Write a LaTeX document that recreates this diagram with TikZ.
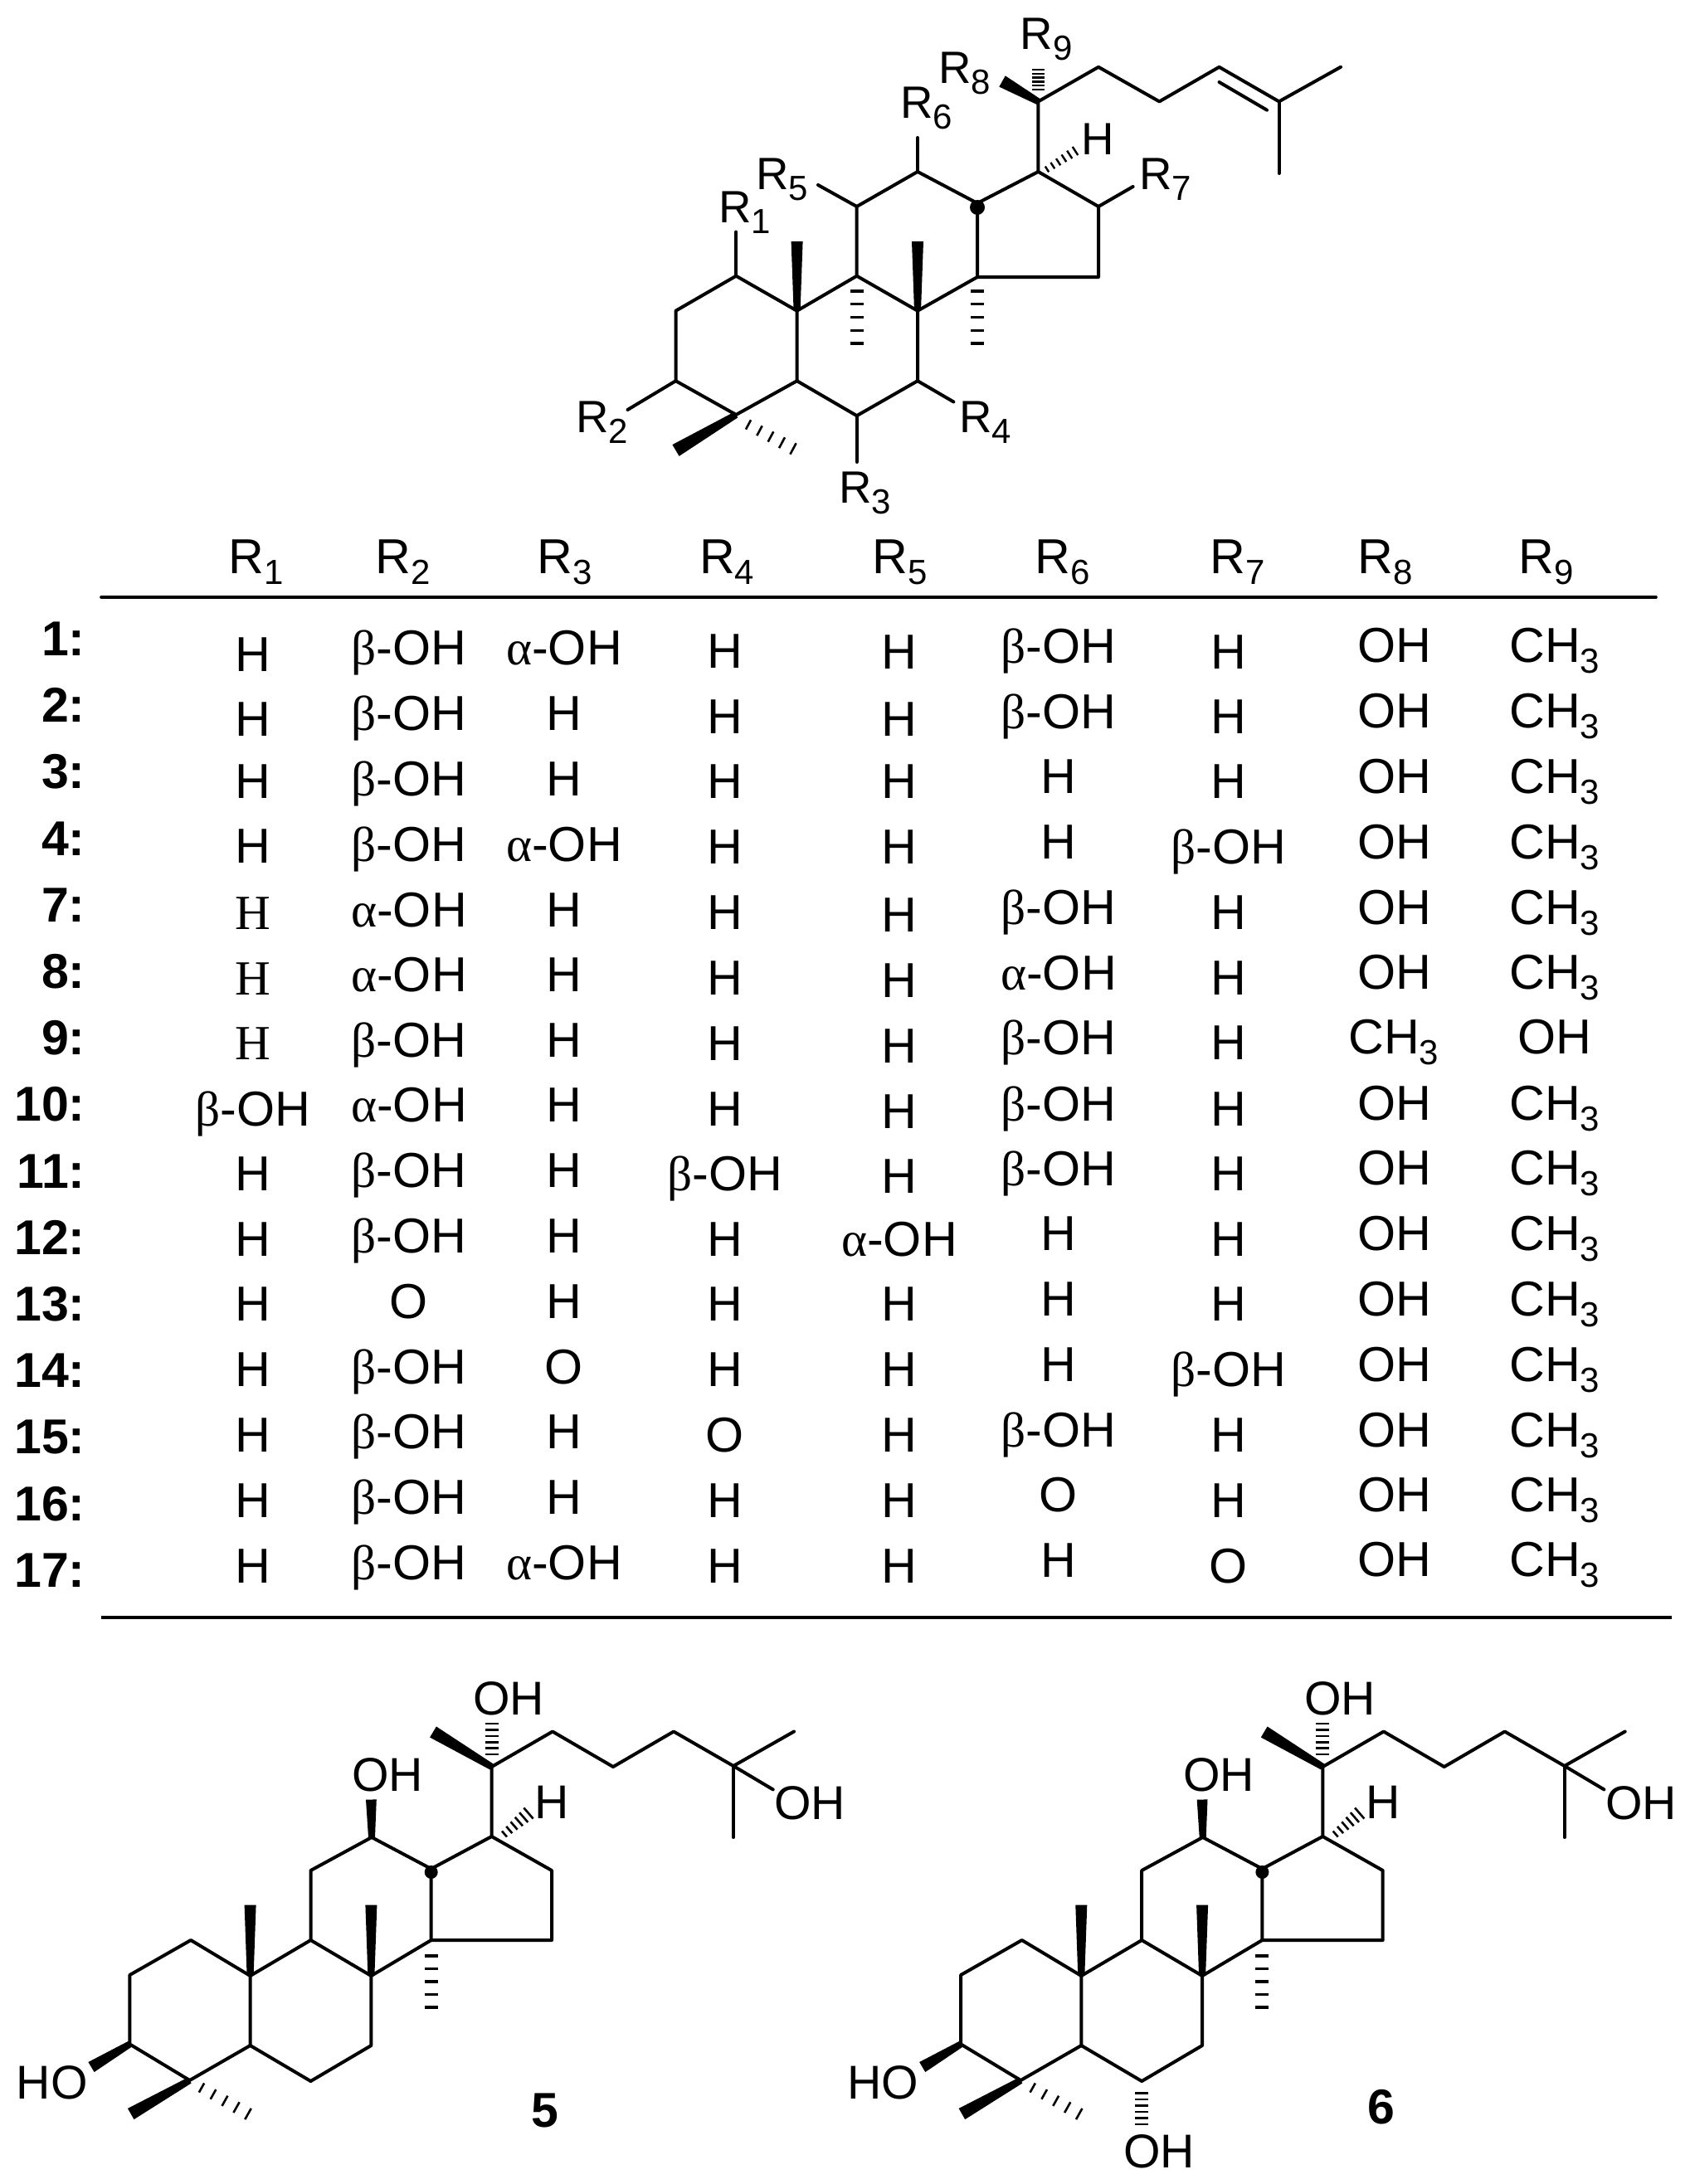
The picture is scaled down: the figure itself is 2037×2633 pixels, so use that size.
\documentclass[tikz,border=0pt]{standalone}
\usepackage{fontspec}
\usetikzlibrary{calc}
\setmainfont{Liberation Sans}
\newfontfamily\serifgr{Liberation Serif}
\newcommand\bOH{{\serifgr β}-OH}
\newcommand\aOH{{\serifgr α}-OH}
\newcommand\sH{{\serifgr H}}
\newcommand\subsc[1]{\raisebox{-6.5pt}{\fontsize{21}{21}\selectfont #1}}
\newcommand\CHt{CH\subsc{3}}
\newcommand\Rsub[1]{R\subsc{#1}}
\newcommand\wedgeb[3][3.5pt]{% half width, tip, end
  \fill ($(#2)!2pt!90:(#3)$) -- ($(#3)!#1!-90:(#2)$) -- ($(#3)!#1!90:(#2)$) -- ($(#2)!2pt!-90:(#3)$) -- cycle;}
\newcommand\hashb[7]{% from,to,n,halfw0,halfw1,thick(pt),prefix
  \coordinate (#7hx) at ($(#1)!-1!(#2)$);
  \foreach \k in {1,...,#3}{
    \pgfmathsetmacro\ff{(\k-1)/(#3-1)}
    \pgfmathsetmacro\ww{#4+(#5-#4)*\ff}
    \draw[line width=#6pt,line cap=butt] ($(#1)!\ff!(#2)!\ww pt!90:(#7hx)$) -- ($(#1)!\ff!(#2)!\ww pt!-90:(#7hx)$);
  }}
\newcommand\steroid[2]{% prefix, x-shift
  \begin{scope}[xshift=#2*0.5pt]
  \coordinate (#1C1) at (230,2339);
  \coordinate (#1C2) at (156.4,2381);
  \coordinate (#1C3) at (156.4,2464.4);
  \coordinate (#1C4) at (228.6,2508);
  \coordinate (#1C5) at (301.6,2466);
  \coordinate (#1C10) at (301.6,2382);
  \coordinate (#1C9) at (374.5,2339);
  \coordinate (#1C11) at (374.5,2255);
  \coordinate (#1C12) at (448,2215);
  \coordinate (#1C13) at (519.7,2253);
  \coordinate (#1C14) at (519.7,2339);
  \coordinate (#1C8) at (447.4,2382);
  \coordinate (#1C7) at (447.4,2466);
  \coordinate (#1C6) at (374.5,2509);
  \coordinate (#1C15) at (665,2339);
  \coordinate (#1C16) at (665,2255);
  \coordinate (#1C17) at (592.6,2214);
  \coordinate (#1C20) at (592.6,2130);
  \coordinate (#1C22) at (666,2087.5);
  \coordinate (#1C23) at (739,2130);
  \coordinate (#1C24) at (812,2087.5);
  \coordinate (#1C25) at (884,2129);
  \coordinate (#1C26) at (957,2087.5);
  \coordinate (#1C27) at (884,2215);
  \coordinate (#1e1) at (931.7,2157.4);
  \coordinate (#1e12) at (447.4,2169.5);
  \coordinate (#1e21) at (522,2088);
  \coordinate (#1e18) at (301.6,2296.5);
  \coordinate (#1e19) at (447.4,2296.5);
  \coordinate (#1eO) at (110,2492);
  \coordinate (#1e28) at (157.7,2548.5);
  \coordinate (#1h0a) at (592.6,2115);
  \coordinate (#1h0b) at (592.6,2078);
  \coordinate (#1h1a) at (608,2211);
  \coordinate (#1h1b) at (637,2186);
  \coordinate (#1h2a) at (519.7,2358);
  \coordinate (#1h2b) at (519.7,2420);
  \coordinate (#1h3a) at (243,2517);
  \coordinate (#1h3b) at (299,2548.5);
  \draw[bond] (#1C1)--(#1C2)--(#1C3)--(#1C4)--(#1C5)--(#1C10)--cycle;
  \draw[bond] (#1C5)--(#1C6)--(#1C7)--(#1C8)--(#1C9)--(#1C10);
  \draw[bond] (#1C9)--(#1C11)--(#1C12)--(#1C13)--(#1C14)--(#1C8);
  \draw[bond] (#1C13)--(#1C17)--(#1C16)--(#1C15)--(#1C14);
  \draw[bond] (#1C17)--(#1C20)--(#1C22)--(#1C23)--(#1C24)--(#1C25)--(#1C26);
  \draw[bond] (#1C25)--(#1C27);
  \draw[bond] (#1C25)--(#1e1);
  \wedgeb{#1C10}{#1e18}
  \wedgeb{#1C8}{#1e19}
  \wedgeb[3.2pt]{#1C12}{#1e12}
  \wedgeb[3.8pt]{#1C20}{#1e21}
  \wedgeb[3.5pt]{#1C3}{#1eO}
  \wedgeb[3.8pt]{#1C4}{#1e28}
  \hashb{#1h0a}{#1h0b}{6}{4}{4}{1.3}{#1a}
  \hashb{#1h1a}{#1h1b}{6}{2.3}{4.3}{1.3}{#1b}
  \hashb{#1h2a}{#1h2b}{5}{4}{4}{1.6}{#1c}
  \hashb{#1h3a}{#1h3b}{5}{3.2}{3.8}{1.3}{#1d}
  \fill (#1C13) ++(0,4) circle (4pt);
  \node[lab] (#1l1) at (933,2193) {OH};
  \node[lab] (#1l2) at (570,2067.5) {OH};
  \node[lab] (#1l3) at (424,2159) {OH};
  \node[lab] (#1l4) at (644,2192.4) {H};
  \node[lab] (#1l5) at (19.5,2530) {HO};
  \end{scope}}
\tikzset{
  x=0.5pt,y=-0.5pt,
  bond/.style={line width=2pt,line join=round,line cap=round},
  lab/.style={anchor=base west,inner sep=0pt,font=\fontsize{28.6}{30}\selectfont},
  rlab/.style={anchor=base west,inner sep=0pt,xshift=0.5pt,font=\fontsize{27.3}{30}\selectfont},
  head/.style={anchor=base west,inner sep=0pt,font=\fontsize{29.6}{30}\selectfont},
  hcol/.style={head,xshift=1pt},
  cell/.style={anchor=base,inner sep=0pt,font=\fontsize{29.6}{30}\selectfont},
  rowlab/.style={anchor=base east,inner sep=0pt,font=\fontsize{29.5}{30}\selectfont\bfseries},
  rule/.style={line width=1.8pt,line cap=round},
}
\begin{document}
\begin{tikzpicture}
\useasboundingbox (0,0) rectangle (2037,2633);
\fill[white] (0,0) rectangle (2037,2633);
% ---- main skeleton
\coordinate (C1) at (887.2,332.7);
\coordinate (C2) at (814.5,374.7);
\coordinate (C3) at (814.5,459.2);
\coordinate (C4) at (887.2,500);
\coordinate (C5) at (960.6,459.2);
\coordinate (C10) at (960.6,374.7);
\coordinate (C9) at (1032.7,332.7);
\coordinate (C11) at (1032.7,249);
\coordinate (C12) at (1106,207);
\coordinate (C13) at (1178,245);
\coordinate (C14) at (1178,334);
\coordinate (C8) at (1106,374.7);
\coordinate (C7) at (1106,459.2);
\coordinate (C6) at (1032.7,501.2);
\coordinate (C15) at (1324,334);
\coordinate (C16) at (1324,249);
\coordinate (C17) at (1251.4,207);
\coordinate (C20) at (1251.4,122.4);
\coordinate (C22) at (1324,80.8);
\coordinate (C23) at (1397.4,122.4);
\coordinate (C24) at (1469.5,80.8);
\coordinate (C25) at (1541.6,122.4);
\coordinate (C26) at (1616,80.8);
\coordinate (C27) at (1541.6,209);
\coordinate (Da) at (1469.5,99);
\coordinate (Db) at (1527,132.7);
\coordinate (s1) at (887.2,279.6);
\coordinate (s5) at (986,223);
\coordinate (s6) at (1106,166);
\coordinate (s7) at (1365.6,225);
\coordinate (s4) at (1149.4,484.5);
\coordinate (s3) at (1032.7,557);
\coordinate (s2) at (756.5,494);
\coordinate (w18) at (960.6,291);
\coordinate (w19) at (1106,291);
\coordinate (w28) at (814.5,543);
\coordinate (w21) at (1208,98);
\coordinate (ha0) at (1032.7,351);
\coordinate (hb0) at (1032.7,414);
\coordinate (ha1) at (1178,351);
\coordinate (hb1) at (1178,414);
\coordinate (ha2) at (1251.4,108);
\coordinate (hb2) at (1251.4,84);
\coordinate (ha3) at (1262,204);
\coordinate (hb3) at (1296,182);
\coordinate (ha4) at (902,512);
\coordinate (hb4) at (956,541);
\draw[bond] (C1)--(C2)--(C3)--(C4)--(C5)--(C10)--cycle;
\draw[bond] (C5)--(C6)--(C7)--(C8)--(C9)--(C10);
\draw[bond] (C9)--(C11)--(C12)--(C13)--(C14)--(C8);
\draw[bond] (C13)--(C17)--(C16)--(C15)--(C14);
\draw[bond] (C17)--(C20)--(C22)--(C23)--(C24)--(C25)--(C26);
\draw[bond] (C25)--(C27);
\draw[bond] (Da)--(Db);
\draw[bond] (C1)--(s1);
\draw[bond] (C11)--(s5);
\draw[bond] (C12)--(s6);
\draw[bond] (C16)--(s7);
\draw[bond] (C7)--(s4);
\draw[bond] (C6)--(s3);
\draw[bond] (C3)--(s2);
\wedgeb{C10}{w18}
\wedgeb{C8}{w19}
\wedgeb[4pt]{C4}{w28}
\wedgeb[3.8pt]{C20}{w21}
\hashb{ha0}{hb0}{5}{4}{4}{1.6}{m0}
\hashb{ha1}{hb1}{5}{4}{4}{1.6}{m1}
\hashb{ha2}{hb2}{6}{3.8}{3.8}{1.2}{m2}
\hashb{ha3}{hb3}{6}{2}{3}{1.2}{m3}
\hashb{ha4}{hb4}{5}{3.2}{3.8}{1.3}{m4}
\fill (1178,250) circle (4.5pt);
\node[rlab] (r1) at (865,269) {\Rsub{1}};
\node[rlab] (r2) at (693,521.6) {\Rsub{2}};
\node[rlab] (r3) at (1010,606) {\Rsub{3}};
\node[rlab] (r4) at (1155,521.6) {\Rsub{4}};
\node[rlab] (r5) at (910,228.6) {\Rsub{5}};
\node[rlab] (r6) at (1084,143) {\Rsub{6}};
\node[rlab] (r7) at (1372,228.6) {\Rsub{7}};
\node[rlab] (r8) at (1130,101) {\Rsub{8}};
\node[rlab] (r9) at (1228.5,60) {\Rsub{9}};
\node[rlab] (hh) at (1302,187) {H};
% ---- table header and rules
\node[hcol] (h1) at (273,691) {\Rsub{1}};
\node[hcol] (h2) at (450,691) {\Rsub{2}};
\node[hcol] (h3) at (645.5,691) {\Rsub{3}};
\node[hcol] (h4) at (840.6,691) {\Rsub{4}};
\node[hcol] (h5) at (1049,691) {\Rsub{5}};
\node[hcol] (h6) at (1245,691) {\Rsub{6}};
\node[hcol] (h7) at (1456,691) {\Rsub{7}};
\node[hcol] (h8) at (1634.5,691) {\Rsub{8}};
\node[hcol] (h9) at (1828,691) {\Rsub{9}};
\coordinate (rt1) at (122,720);
\coordinate (rt2) at (1996,720);
\coordinate (rb1) at (122,1950);
\coordinate (rb2) at (2015,1950);
\draw[rule] (rt1)--(rt2);
\draw[rule,line cap=butt] (rb1)--(rb2);
% ---- row labels
\foreach \t [count=\r from 0] in {1,2,3,4,7,8,9,10,11,12,13,14,15,16,17}
  \node[rowlab] (lab\r) at (103,{790.4+80.2*\r}) {\t:};
% ---- columns
\foreach \y/\t [count=\r] in {809.6/H,887.8/H,962.8/H,1040.9/H,1120/\sH,1199/\sH,1277.5/\sH,1357/\bOH,1435.5/H,1514.5/H,1592.7/H,1671.7/H,1750.7/H,1829/H,1908.3/H}
  \node[cell] (a\r) at (305,\y) {\t};
\foreach \y/\t [count=\r] in {801.6/\bOH,880/\bOH,959/\bOH,1038/\bOH,1117/\aOH,1195/\aOH,1274/\bOH,1352.5/\aOH,1431/\bOH,1510/\bOH,1589/O,1668/\bOH,1746.7/\bOH,1825.7/\bOH,1904.7/\bOH}
  \node[cell] (b\r) at (493,\y) {\t};
\foreach \y/\t [count=\r] in {801.6/\aOH,880/H,959/H,1038/\aOH,1117/H,1195/H,1274/H,1352.5/H,1431/H,1510/H,1589/H,1668/O,1746.7/H,1825.7/H,1904.7/\aOH}
  \node[cell] (c\r) at (680,\y) {\t};
\foreach \y/\t [count=\r] in {805/H,884.6/H,962.8/H,1041.8/H,1120.8/H,1199/H,1278/H,1357/H,1435.5/\bOH,1514.5/H,1592.7/H,1671.7/H,1750.7/O,1829/H,1908.3/H}
  \node[cell] (d\r) at (874,\y) {\t};
\foreach \y/\t [count=\r] in {806/H,887.8/H,962.8/H,1041.8/H,1123.5/H,1202.5/H,1281.5/H,1360.5/H,1438.7/H,1514.5/\aOH,1592.7/H,1671.7/H,1750.7/H,1829/H,1908.3/H}
  \node[cell] (e\r) at (1084,\y) {\t};
\foreach \y/\t [count=\r] in {799.4/\bOH,878/\bOH,956/H,1035/H,1114.5/\bOH,1193.6/\aOH,1271.7/\bOH,1351/\bOH,1429.7/\bOH,1507.9/H,1586.9/H,1665/H,1744/\bOH,1822.6/O,1901.6/H}
  \node[cell] (f\r) at (1276,\y) {\t};
\foreach \y/\t [count=\r] in {806/H,884.6/H,962.8/H,1041.8/\bOH,1120.8/H,1199.4/H,1277.5/H,1357/H,1435.5/H,1514.5/H,1592.7/H,1671.7/\bOH,1750.7/H,1829.3/H,1908.3/O}
  \node[cell] (g\r) at (1481,\y) {\t};
\foreach \y/\t [count=\r] in {798.5/OH,877.5/OH,956/OH,1035/OH,1114/OH,1192/OH,1350.3/OH,1428.8/OH,1507.4/OH,1586/OH,1665/OH,1744/OH,1822/OH,1900.7/OH}
  \node[cell] (i\r) at (1681,\y) {\t};
\node[head] (i15) at (1625,1270.8) {\CHt};
\foreach \y [count=\r] in {798.5,877.5,956,1035,1114,1192,1350.3,1428.8,1507.4,1586,1665,1744,1822,1900.7}
  \node[head] (j\r) at (1819,\y) {\CHt};
\node[cell] (j15) at (1873.7,1270.8) {OH};
% ---- compounds 5 and 6
\steroid{p}{0}
\node[rowlab,anchor=base] (n5) at (657,2564) {5};
\steroid{q}{1001.7}
\coordinate (q6a) at (1375.7,2523.5);
\coordinate (q6b) at (1375.7,2561);
\hashb{q6a}{q6b}{6}{4}{4}{1.3}{q6}
\node[lab] (q6o) at (1354,2613) {OH};
\node[rowlab,anchor=base] (n6) at (1664.7,2560) {6};
\end{tikzpicture}
\end{document}
